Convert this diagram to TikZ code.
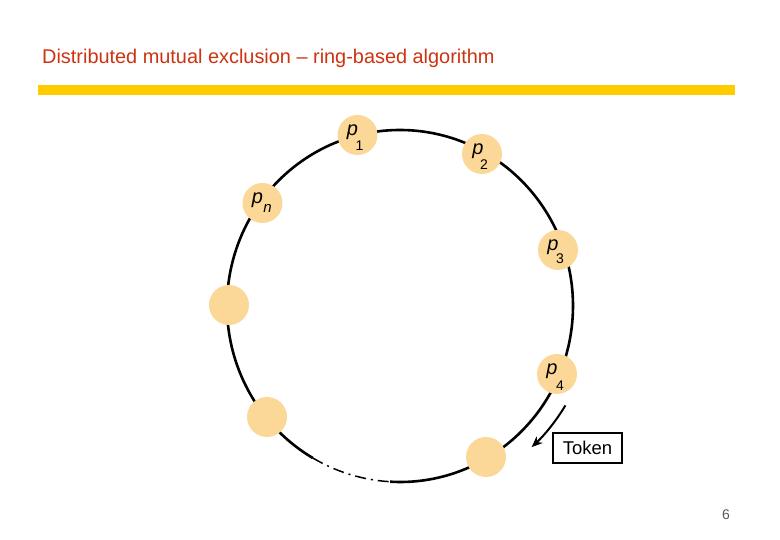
\documentclass[tikz,border=0pt]{standalone}
\usepackage{fontspec}
\setmainfont{Liberation Sans}
\usetikzlibrary{arrows.meta}
\definecolor{procfill}{HTML}{FCD898}
\definecolor{titlered}{HTML}{CC3311}
\definecolor{baryellow}{HTML}{FFCC00}
\tikzset{
  proc/.style={circle, fill=procfill, minimum size=40pt, inner sep=0pt},
  plab/.style={font=\fontsize{20}{20}\selectfont\itshape, inner sep=0pt, anchor=base},
  psub/.style={font=\fontsize{14}{14}\selectfont, inner sep=0pt, anchor=base},
  ring/.style={line width=2.6pt},
}
\begin{document}
\begin{tikzpicture}[x=1pt,y=1pt]
\useasboundingbox (0,0) rectangle (780,540);
% title and bar
\node[anchor=base west, inner sep=0pt, text=titlered, font=\fontsize{19.9}{19.9}\selectfont] (title) at (42,476) {Distributed mutual exclusion -- ring-based algorithm};
\fill[baryellow] (38,445) rectangle (735,455);
% ring
\draw[ring] (400,234) ++(266.7:173 and 176) arc[start angle=266.7, end angle=599.8, x radius=173, y radius=176];
\draw[line width=1.5pt, dash pattern=on 11pt off 5pt on 2pt off 5pt] (400,234) ++(239.8:173 and 176) arc[start angle=239.8, end angle=266.7, x radius=173, y radius=176];
% processes
\node[proc] (p1) at (357.5,405) {};
\node[proc] (p2) at (482,386) {};
\node[proc] (pn) at (262.5,337) {};
\node[proc] (p3) at (558,290) {};
\node[proc] (b1) at (229,235) {};
\node[proc] (p4) at (557,166) {};
\node[proc] (b2) at (267,123) {};
\node[proc] (b3) at (486,83) {};
% labels
\node[plab, xshift=-5pt, yshift=-1pt] (p1l) at (p1) {p};
\node[psub, xshift=2pt, yshift=-16pt] (p1s) at (p1) {1};
\node[plab, xshift=-4pt, yshift=-1pt] (p2l) at (p2) {p};
\node[psub, xshift=2pt, yshift=-16pt] (p2s) at (p2) {2};
\node[plab, xshift=-5pt, yshift=-1pt] (p3l) at (p3) {p};
\node[psub, xshift=2pt, yshift=-14pt] (p3s) at (p3) {3};
\node[plab, xshift=-5pt, yshift=-1pt] (p4l) at (p4) {p};
\node[psub, xshift=3pt, yshift=-17pt] (p4s) at (p4) {4};
\node[plab, xshift=-5pt, yshift=-1pt] (pnl) at (pn) {p};
\node[psub, font=\fontsize{15}{15}\selectfont\itshape, xshift=5pt, yshift=-10pt] (pns) at (pn) {n};
% token
\node[draw, line width=2pt, minimum width=69pt, minimum height=30pt, inner sep=0pt, font=\fontsize{18.5}{18.5}\selectfont] (token) at (587.5,92) {Token};
\draw[line width=2pt, -{Stealth[length=11pt,width=9pt]}] (400,234) ++(-31:193) arc[start angle=-31, end angle=-47, radius=193];
% page number
\node[text=black!65, font=\fontsize{14}{14}\selectfont, inner sep=0pt] (pg) at (726,25.5) {6};
\end{tikzpicture}
\end{document}
